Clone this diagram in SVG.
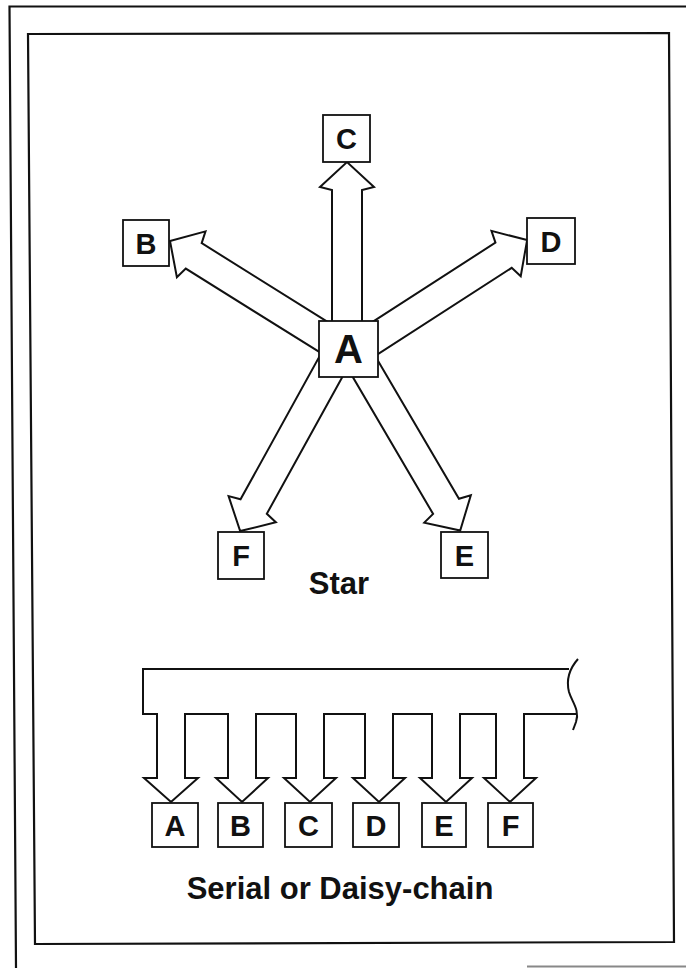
<svg xmlns="http://www.w3.org/2000/svg" width="686" height="968" viewBox="0 0 686 968">
<style>
.frame{fill:none;stroke:#111;stroke-width:2.2}
.box{fill:#fff;stroke:#111;stroke-width:1.8}
.arrow{fill:#fff;stroke:#111;stroke-width:2;stroke-linejoin:miter}
.lbl{font-family:"Liberation Sans",Arial,Helvetica,sans-serif;font-weight:bold;font-size:29px;fill:#111;text-anchor:middle}
.big{font-size:40px}
.cap{font-family:"Liberation Sans",Arial,Helvetica,sans-serif;font-weight:bold;font-size:31px;fill:#111;text-anchor:middle}
</style>
<rect width="686" height="968" fill="#fff"/>
<g id="frame">
<path class="frame" d="M686,6.5 L9.5,6.5 L16,968" stroke-width="3"/>
<path class="frame" d="M28,34 L669,33 L674,942 L35,944 Z"/>
<path d="M527,966.5 H686" stroke="#888" stroke-width="2" fill="none"/>
</g>
<g id="connectors">
<path id="arrow-A-C" class="arrow" transform="translate(347,349) rotate(-90)" d="M0,-15 H159 L162,-27 L187,0 L162,27 L159,15 H0 Z"/>
<path id="arrow-A-B" class="arrow" transform="translate(339.6,347) rotate(-148)" d="M0,-15 H172 L175,-27 L200,0 L175,27 L172,15 H0 Z"/>
<path id="arrow-A-D" class="arrow" transform="translate(359,348.4) rotate(-32.8)" d="M0,-15 H172 L175,-27 L200,0 L175,27 L172,15 H0 Z"/>
<path id="arrow-A-F" class="arrow" transform="translate(336.8,356) rotate(118.9)" d="M0,-15 H172 L175,-27 L200,0 L175,27 L172,15 H0 Z"/>
<path id="arrow-A-E" class="arrow" transform="translate(359,358) rotate(59.6)" d="M0,-15 H172 L175,-27 L200,0 L175,27 L172,15 H0 Z"/>
<path id="bus" class="arrow" d="M569,669 H143 V714 H157 V778 H144 L171,802 L198,778 H185 V714 H228 V778 H216 L242,802 L268,778 H256 V714 H296 V778 H284 L310,802 L336,778 H324 V714 H365 V778 H353 L379,802 L405,778 H393 V714 H432 V778 H420 L446,802 L472,778 H460 V714 H496 V778 H484 L510,802 L536,778 H524 V714 H577"/>
<path id="bus-break" fill="none" stroke="#111" stroke-width="2" d="M578,659 C570,668 566,680 569,692 C572,702 580,710 576,722 L573,730"/>
</g>
<g id="star-A"><rect class="box" x="319" y="321" width="59" height="56"/><text class="lbl big" x="348.5" y="363">A</text></g>
<g id="star-B"><rect class="box" x="123" y="220" width="46" height="46"/><text class="lbl" x="146" y="253.5">B</text></g>
<g id="star-C"><rect class="box" x="323" y="115" width="47" height="47"/><text class="lbl" x="346.5" y="149">C</text></g>
<g id="star-D"><rect class="box" x="527" y="218" width="48" height="46"/><text class="lbl" x="551" y="251.5">D</text></g>
<g id="star-E"><rect class="box" x="441" y="532" width="47" height="46"/><text class="lbl" x="464.5" y="565.5">E</text></g>
<g id="star-F"><rect class="box" x="218" y="532" width="46" height="47"/><text class="lbl" x="241" y="566">F</text></g>
<text id="star-caption" class="cap" x="339" y="594">Star</text>
<g id="serial-A"><rect class="box" x="152" y="803" width="46" height="44"/><text class="lbl" x="175" y="835.5">A</text></g>
<g id="serial-B"><rect class="box" x="218" y="803" width="45" height="44"/><text class="lbl" x="240.5" y="835.5">B</text></g>
<g id="serial-C"><rect class="box" x="285" y="803" width="47" height="44"/><text class="lbl" x="308.5" y="835.5">C</text></g>
<g id="serial-D"><rect class="box" x="353" y="803" width="46" height="44"/><text class="lbl" x="376" y="835.5">D</text></g>
<g id="serial-E"><rect class="box" x="422" y="803" width="44" height="44"/><text class="lbl" x="444" y="835.5">E</text></g>
<g id="serial-F"><rect class="box" x="488" y="803" width="45" height="44"/><text class="lbl" x="510.5" y="835.5">F</text></g>
<text id="serial-caption" class="cap" x="340" y="899">Serial or Daisy-chain</text>
</svg>
